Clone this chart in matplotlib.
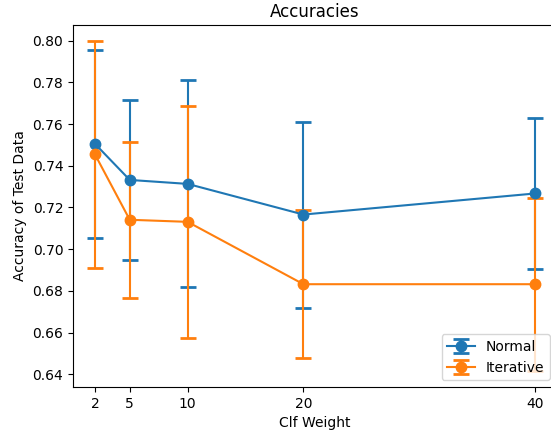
import matplotlib
matplotlib.use("Agg")
import matplotlib.pyplot as plt

weights = [2, 5, 10, 20, 40]

normal_mean = [0.7505, 0.7332, 0.7313, 0.7166, 0.7267]
normal_err = [0.0450, 0.0384, 0.0496, 0.0446, 0.0360]

iter_mean = [0.7454, 0.7141, 0.7131, 0.6832, 0.6832]
iter_err = [0.0542, 0.0373, 0.0555, 0.0354, 0.0414]

fig = plt.figure(figsize=(5.51, 4.32), dpi=100)
ax = fig.add_axes([73 / 551, 1 - 387 / 432, 484 / 551, 362 / 432])

ax.errorbar(weights, normal_mean, yerr=normal_err, marker='o', markersize=7.5,
            capsize=6, capthick=2, color='#1f77b4', label='Normal')
ax.errorbar(weights, iter_mean, yerr=iter_err, marker='o', markersize=7.5,
            capsize=6, capthick=2, color='#ff7f0e', label='Iterative')

ax.set_xticks(weights)
ax.set_xlabel('Clf Weight')
ax.set_ylabel('Accuracy of Test Data')
ax.set_title('Accuracies')
ax.legend(loc='lower right')

fig.savefig("out.png", dpi=100)
